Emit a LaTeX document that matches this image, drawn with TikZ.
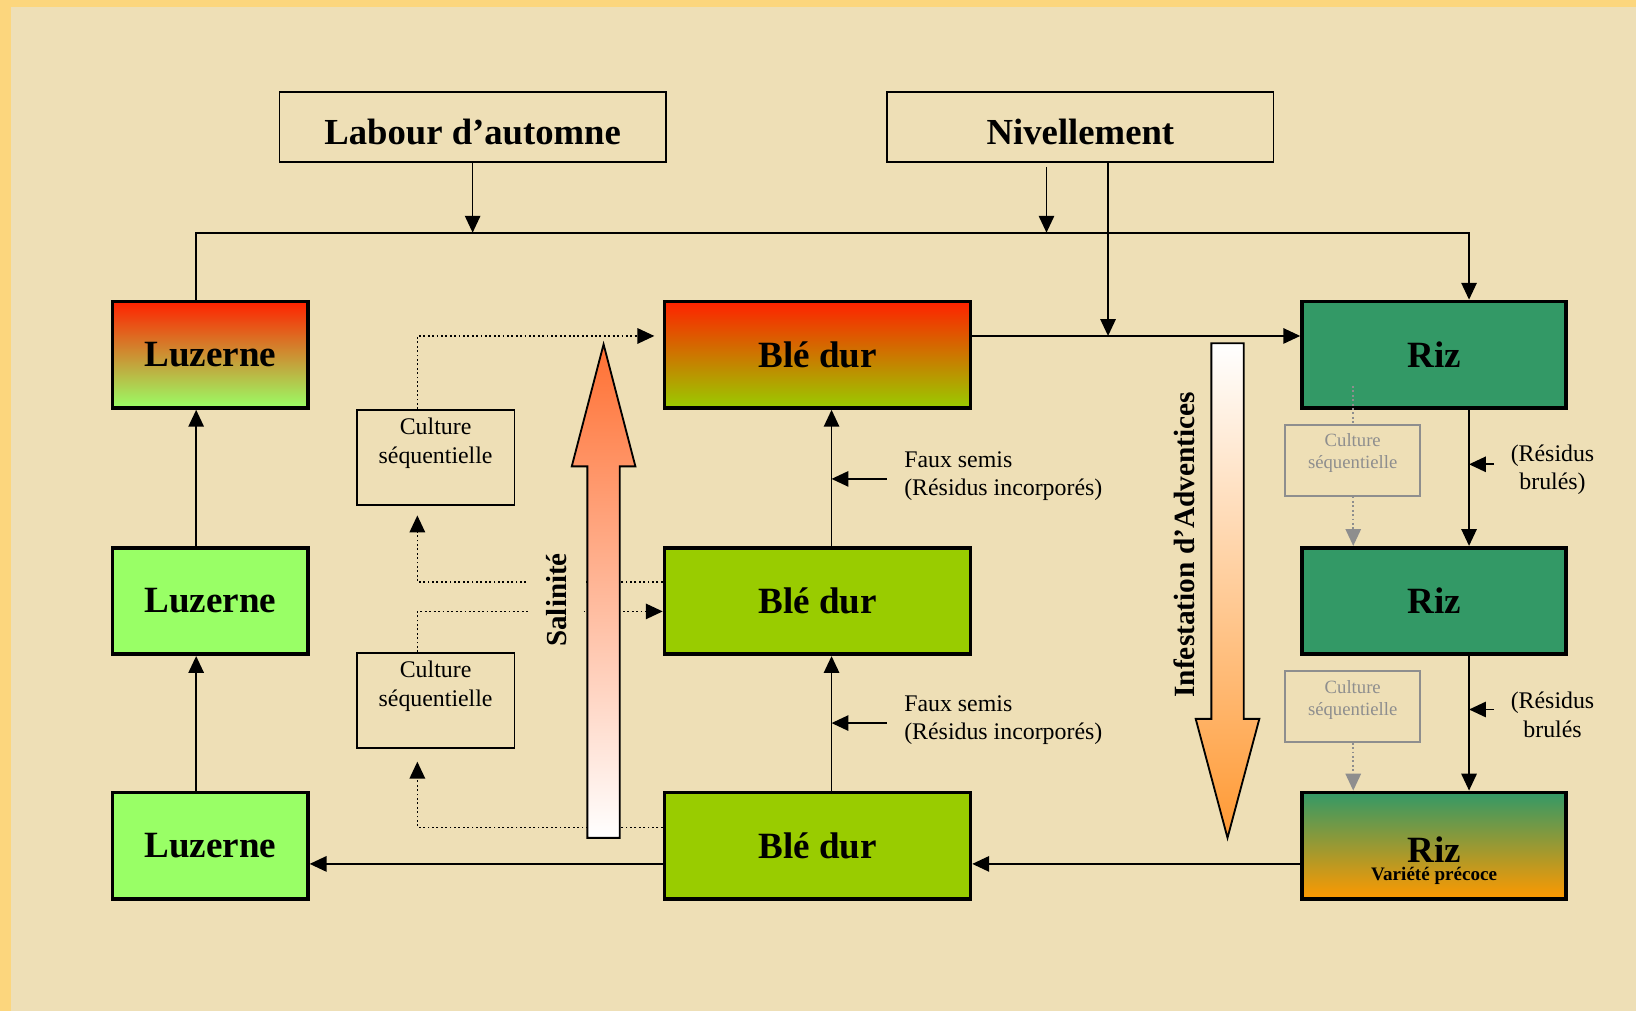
\documentclass[tikz,border=0pt]{standalone}
\usepackage{fontspec}
\setmainfont{Liberation Serif}
\usetikzlibrary{arrows.meta,positioning}

\definecolor{fond}{HTML}{EEDFB6}
\definecolor{cadre}{HTML}{FCD67D}
\definecolor{luzvert}{HTML}{99FF66}
\definecolor{blevert}{HTML}{99CC00}
\definecolor{rizvert}{HTML}{339966}
\definecolor{rouge}{HTML}{FF2200}
\definecolor{rizorange}{HTML}{FF9900}
\definecolor{gris}{HTML}{8E8E8E}
\definecolor{peche}{HTML}{FFD3BA}
\definecolor{advorange}{HTML}{FF9933}

\tikzset{
	bloc/.style={draw, line width=1pt, inner sep=0pt, minimum height=1.02cm, font=\fontsize{10.1}{12}\selectfont\bfseries},
	luz/.style={bloc, minimum width=1.87cm, fill=luzvert},
	ble/.style={bloc, minimum width=2.93cm, fill=blevert},
	riz/.style={bloc, minimum width=2.53cm, fill=rizvert},
	travail/.style={draw, line width=0.5pt, minimum width=3.7cm, minimum height=0.67cm, text height=9.7pt, text depth=0pt, font=\fontsize{10}{12}\selectfont\bfseries},
	trait/.style={line width=0.45pt},
	pointe/.style={-{Triangle[length=4.6pt,width=4.2pt]}},
	fleche/.style={trait, pointe},
	pointille/.style={trait, dash pattern=on 0.5pt off 0.7pt},
	csbox/.style={draw, line width=0.45pt, minimum width=1.51cm, minimum height=0.91cm},
	cstxt/.style={align=center, inner sep=0pt, font=\fontsize{6.5}{7.7}\selectfont},
	csgris/.style={draw=gris, line width=0.5pt, minimum width=1.29cm, minimum height=0.68cm},
	csgtxt/.style={align=center, inner sep=0pt, text=gris, font=\fontsize{5.1}{6}\selectfont},
	note/.style={align=center, inner sep=0pt, font=\fontsize{6.5}{7.7}\selectfont},
	grosse/.style={draw, line width=0.5pt}
}

\begin{document}
\begin{tikzpicture}[x=0.01cm, y=-0.01cm]
	% fond
	\fill[cadre] (0,0) rectangle (1568,969);
	\fill[fond] (10.5,6.7) rectangle (1568,969);
	\useasboundingbox (0,0) rectangle (1568,969);

	% reperes
	\coordinate (haut) at (188,223);
	\coordinate (colB) at (797,0);
	\coordinate (colR) at (1408,0);
	\coordinate (colS) at (400,0);
	\coordinate (n1) at (1003,160);
	\coordinate (n2) at (1062,0);
	\coordinate (hB) at (0,322);
	\coordinate (bas) at (0,828);
	\coordinate (s2) at (0,558);
	\coordinate (e2) at (0,586);
	\coordinate (s3) at (0,793);
	\coordinate (t1) at (400,494);
	\coordinate (t2) at (400,730);
	\coordinate (g1) at (1297,370);
	\coordinate (f1) at (850,459);
	\coordinate (f2) at (850,693);
	\coordinate (r1) at (1432,445);
	\coordinate (r2) at (1432,680);

	% travaux du sol
	\node[travail] (lab) at (453,121.5) {Labour d’automne};
	\node[travail] (niv) at (1035.5,121.5) {Nivellement};

	% cultures
	\node[luz, top color=rouge, bottom color=luzvert] (luz1) at (201.5,340) {Luzerne};
	\node[luz] (luz2) at (201.5,576) {Luzerne};
	\node[luz] (luz3) at (201.5,810.5) {Luzerne};
	\node[ble, top color=rouge, bottom color=blevert] (ble1) at (783.5,340) {Blé dur};
	\node[ble] (ble2) at (783.5,576) {Blé dur};
	\node[ble] (ble3) at (783.5,810.5) {Blé dur};
	\node[riz] (riz1) at (1374.5,340) {Riz};
	\node[riz] (riz2) at (1374.5,576) {Riz};
	\node[riz, top color=rizvert, bottom color=rizorange] (riz3) at (1374.5,810.5) {};
	\node[inner sep=0pt, align=center, font=\fontsize{10.1}{12}\selectfont\bfseries] (riz3t) at (1374.5,825) {Riz\\[-7pt]{\fontsize{5.2}{6}\selectfont Variété précoce}};

	% cultures sequentielles
	\node[csbox] (cs1) at (417.5,438.5) {};
	\node[cstxt, below=0.08cm of cs1.north] (cs1t) {Culture\\séquentielle};
	\node[csbox] (cs2) at (417.5,671.5) {};
	\node[cstxt, below=0.08cm of cs2.north] (cs2t) {Culture\\séquentielle};
	\node[csgris] (csr1) at (1296.5,441) {};
	\node[csgtxt, below=0.09cm of csr1.north] (csr1t) {Culture\\séquentielle};
	\node[csgris] (csr2) at (1296.5,677) {};
	\node[csgtxt, below=0.09cm of csr2.north] (csr2t) {Culture\\séquentielle};

	% liaisons en pointille
	\draw[pointille, pointe, shorten >=0.08cm] (cs1.north -| colS) |- (ble1.west |- hB);
	\draw[pointille, pointe] (ble2.west |- s2) -| (t1);
	\draw[pointille, pointe] (cs2.north -| colS) |- (ble2.west |- e2);
	\draw[pointille, pointe] (ble3.west |- s3) -| (t2);
	\draw[pointille, gris] (g1) -- (csr1.north -| g1);
	\draw[pointille, gris, pointe] (csr1.south -| g1) -- (riz2.north -| g1);
	\draw[pointille, gris, pointe] (csr2.south -| g1) -- (riz3.north -| g1);

	% grosses fleches
	\shadedraw[grosse, top color=orange!60!red!80, middle color=red!30!white, bottom color=white]
		(563,803) -- (563,447) -- (548,447) -- (578.5,330) -- (609,447) -- (594,447) -- (594,803) -- cycle;
	\shadedraw[grosse, top color=white, middle color=peche, bottom color=advorange]
		(1161,329) -- (1192,329) -- (1192,689) -- (1207,689) -- (1176.5,803) -- (1146,689) -- (1161,689) -- cycle;
	\node[rotate=90, fill=fond, inner xsep=2pt, inner ysep=0.165cm, font=\fontsize{7.9}{9}\selectfont\bfseries] (sal) at (533,575) {Salinité};
	\node[rotate=90, inner sep=0pt, font=\fontsize{8}{9}\selectfont\bfseries] (inf) at (1135,522) {Infestation d’Adventices};

	% rotation
	\draw[fleche] (luz1.north -| haut) -- (haut) -- (haut -| colR) -- (riz1.north -| colR);
	\draw[fleche] (lab.south) -- (lab.south |- haut);
	\draw[fleche] (n1) -- (n1 |- haut);
	\draw[fleche] (niv.south -| n2) -- (n2 |- hB);
	\draw[fleche] (ble1.east |- hB) -- (riz1.west |- hB);
	\draw[fleche] (luz2.north -| haut) -- (luz1.south -| haut);
	\draw[fleche] (luz3.north -| haut) -- (luz2.south -| haut);
	\draw[fleche] (ble2.north -| colB) -- (ble1.south -| colB);
	\draw[fleche] (ble3.north -| colB) -- (ble2.south -| colB);
	\draw[fleche] (riz1.south -| colR) -- (riz2.north -| colR);
	\draw[fleche] (riz2.south -| colR) -- (riz3.north -| colR);
	\draw[fleche] (riz3.west |- bas) -- (ble3.east |- bas);
	\draw[fleche] (ble3.west |- bas) -- (luz3.east |- bas);

	% pratiques
	\node[note, align=left, anchor=west] (fs1) at (866,456) {Faux semis\\(Résidus incorporés)};
	\node[note, align=left, anchor=west] (fs2) at (866,690) {Faux semis\\(Résidus incorporés)};
	\draw[fleche] (f1) -- (f1 -| colB);
	\draw[fleche] (f2) -- (f2 -| colB);
	\node[note] (res1) at (1488,450) {(Résidus\\brulés)};
	\node[note] (res2) at (1488,685) {(Résidus\\brulés};
	\draw[fleche] (r1) -- (r1 -| colR);
	\draw[fleche] (r2) -- (r2 -| colR);
\end{tikzpicture}
\end{document}
